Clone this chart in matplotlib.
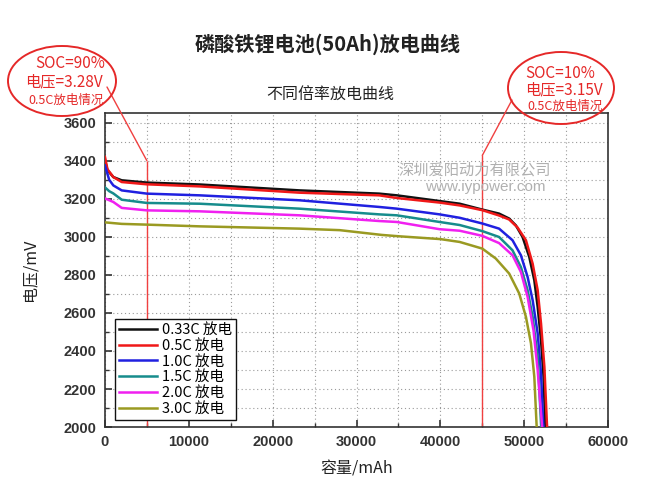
import matplotlib
matplotlib.use("Agg")
import matplotlib.pyplot as plt
from matplotlib.patches import Ellipse
from matplotlib.ticker import MultipleLocator

plt.rcParams['font.family'] = ['Noto Sans CJK SC', 'DejaVu Sans']

# 放电曲线数据 (容量 mAh, 电压 mV)
cap_033 = [0, 300, 1000, 2000, 5000, 11300, 23200, 32700, 34800, 39900, 42300, 45000,
           47000, 48200, 49000, 49800, 50600, 51200, 51600, 52000, 52300, 52500, 52600]
volt_033 = [3400, 3350, 3314, 3297, 3285, 3275, 3244, 3227, 3218, 3188, 3174, 3143,
            3122, 3096, 3060, 2999, 2894, 2772, 2632, 2457, 2264, 2020, 1950]

cap_05 = [0, 300, 1000, 2000, 5000, 11300, 23200, 32700, 34800, 39900, 42300, 45000,
          47000, 48200, 49200, 50200, 51000, 51600, 52000, 52400, 52700, 52800]
volt_05 = [3420, 3355, 3314, 3288, 3276, 3265, 3232, 3218, 3204, 3180, 3165, 3140,
           3112, 3091, 3049, 2982, 2859, 2719, 2544, 2316, 2020, 1950]

cap_10 = [0, 500, 1000, 2000, 5000, 11300, 23200, 32700, 34800, 39900, 42300, 45000,
          47000, 48600, 49600, 50400, 51000, 51600, 52000, 52260, 52350]
volt_10 = [3375, 3300, 3270, 3244, 3227, 3218, 3192, 3157, 3148, 3118, 3100, 3070,
           3043, 2982, 2903, 2789, 2667, 2492, 2282, 2019, 1950]

cap_15 = [0, 500, 1000, 2000, 5000, 11300, 23200, 32700, 34800, 39900, 42300, 45000,
          47000, 48600, 49600, 50400, 51000, 51600, 52000, 52100]
volt_15 = [3260, 3240, 3228, 3195, 3178, 3174, 3148, 3118, 3113, 3078, 3062, 3030,
           2999, 2929, 2841, 2719, 2579, 2369, 2020, 1950]

cap_20 = [0, 1000, 2000, 5000, 11300, 23200, 32700, 34800, 39900, 42300, 45000,
          47000, 48600, 49600, 50400, 51100, 51600, 52100, 52200]
volt_20 = [3202, 3183, 3152, 3139, 3134, 3113, 3083, 3078, 3040, 3032, 3005,
           2967, 2903, 2815, 2684, 2509, 2299, 2020, 1950]

cap_30 = [0, 1000, 2000, 5000, 11300, 23200, 28000, 33000, 35000, 40000, 42300, 45000,
          46600, 48200, 49400, 50200, 50800, 51200, 51460, 51550]
volt_30 = [3076, 3072, 3068, 3064, 3055, 3043, 3035, 3010, 3003, 2988, 2973, 2938,
           2886, 2807, 2702, 2579, 2440, 2264, 2020, 1950]

labels = ["0.33C 放电", "0.5C 放电", "1.0C 放电", "1.5C 放电", "2.0C 放电", "3.0C 放电"]
colors = ["#111111", "#f01818", "#2020e0", "#168c8c", "#f020f0", "#9a9a22"]

soc_caps = [5000, 45000]
soc_volts = [3400, 3428]

fig = plt.figure(figsize=(6.56, 4.92), dpi=100)
ax = fig.add_axes([0.160, 0.132, 0.767, 0.638])

series = [(cap_033, volt_033), (cap_05, volt_05), (cap_10, volt_10),
          (cap_15, volt_15), (cap_20, volt_20), (cap_30, volt_30)]
for (c, v), lab, col in zip(series, labels, colors):
    ax.plot(c, v, color=col, lw=1.8, label=lab, zorder=3)

ax.set_xlim(0, 60000)
ax.set_ylim(2000, 3650)
ax.xaxis.set_major_locator(MultipleLocator(10000))
ax.xaxis.set_minor_locator(MultipleLocator(5000))
ax.yaxis.set_major_locator(MultipleLocator(200))
ax.yaxis.set_minor_locator(MultipleLocator(100))
ax.grid(which='both', color='#9a9a9a', linestyle=(0, (1, 2.5)), lw=0.8)
ax.tick_params(which='both', direction='in', top=False, right=False, color='#333333')
ax.tick_params(which='major', length=5, width=1.2, labelsize=10.5, labelcolor='#333333', pad=6)
ax.tick_params(which='minor', length=3, width=1)
for t in ax.get_xticklabels() + ax.get_yticklabels():
    t.set_fontweight('bold')
    t.set_family(['Liberation Sans', 'DejaVu Sans'])
for s in ax.spines.values():
    s.set_color('#333333')
    s.set_linewidth(1.2)

ax.set_xlabel("容量/mAh", fontsize=11.5, color='#222222', labelpad=8)
ax.set_ylabel("电压/mV", fontsize=11.5, color='#222222', labelpad=18)

leg = ax.legend(loc='lower left', bbox_to_anchor=(0.02, 0.022), borderaxespad=0,
                fontsize=10.5, handlelength=2.6, labelspacing=0.12, handletextpad=0.3,
                borderpad=0.3, fancybox=False, framealpha=1, edgecolor='#111111')
leg.get_frame().set_linewidth(1)

# SOC 标记线
ax.vlines(soc_caps, 2000, soc_volts, color='#f04040', lw=1, zorder=2)

# 覆盖层 (像素坐标)
ov = fig.add_axes([0, 0, 1, 1], facecolor='none')
ov.set_xlim(0, 656)
ov.set_ylim(492, 0)
ov.axis('off')

for (cx, vy), (px, py) in zip(zip(soc_caps, soc_volts), [(107, 87), (512, 100)]):
    ax.annotate('', xy=(cx, vy), xycoords='data', xytext=(px, py), textcoords=ov.transData,
                arrowprops=dict(arrowstyle='-', color='#f04040', lw=1,
                                shrinkA=0, shrinkB=0), annotation_clip=False)

red = '#e52828'
ov.add_patch(Ellipse((62, 81), 108, 70, fill=False, edgecolor=red, lw=1.4))
ov.add_patch(Ellipse((561, 88), 106, 72, fill=False, edgecolor=red, lw=1.4))
ov.text(70, 64, "SOC=90%", color=red, fontsize=11, ha='center', va='center')
ov.text(64, 82, "电压=3.28V", color=red, fontsize=11, ha='center', va='center')
ov.text(66, 100, "0.5C放电情况", color=red, fontsize=9, ha='center', va='center')
ov.text(560, 73, "SOC=10%", color=red, fontsize=11, ha='center', va='center')
ov.text(564, 90, "电压=3.15V", color=red, fontsize=11, ha='center', va='center')
ov.text(565, 106, "0.5C放电情况", color=red, fontsize=9, ha='center', va='center')

ov.text(475, 170, "深圳爱阳动力有限公司", color='#b0b0b0', fontsize=11, ha='center', va='center')
ov.text(485, 187, "www.iypower.com", color='#b0b0b0', fontsize=11, ha='center', va='center',
        family=['Liberation Sans', 'DejaVu Sans'])

fig.text(328 / 656, 1 - 44 / 492, "磷酸铁锂电池(50Ah)放电曲线", fontsize=14.5,
         fontweight='bold', ha='center', va='center', color='#222222')
fig.text(330 / 656, 1 - 95 / 492, "不同倍率放电曲线", fontsize=11.5,
         ha='center', va='center', color='#222222')

fig.savefig("out.png", dpi=100)
